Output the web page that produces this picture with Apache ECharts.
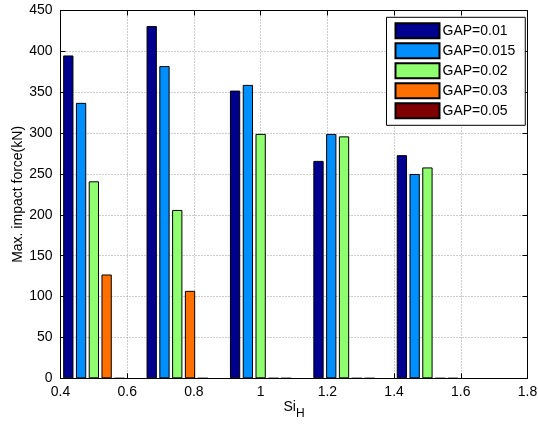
<!DOCTYPE html>
<html>
<head>
<meta charset="utf-8">
<script src="https://cdn.jsdelivr.net/npm/echarts@6/dist/echarts.min.js"></script>
<style>
  html, body { margin: 0; padding: 0; background: #fff; }
  #chart { width: 538px; height: 426px; }
</style>
</head>
<body>
<div id="chart"></div>
<script>
// Si_H positions of each bar group
const siH = [0.5, 0.75, 1.0, 1.25, 1.5];

// Maximum impact force (kN) per gap size
const gapNames = ['GAP=0.01', 'GAP=0.015', 'GAP=0.02', 'GAP=0.03', 'GAP=0.05'];
const gap001  = [395, 431, 352, 266, 273];
const gap0015 = [337, 382, 359, 299, 250];
const gap002  = [241, 206, 299, 296, 258];
const gap003  = [127, 107, 0, 0, 0];
const gap005  = [0, 0, 0, 0, 0];

const xTicks = [0.4, 0.6, 0.8, 1.0, 1.2, 1.4, 1.6, 1.8];
const yTicks = [0, 50, 100, 150, 200, 250, 300, 350, 400, 450];

const gapColors = ['#00008f', '#008fff', '#8fff70', '#ff7000', '#800000'];
const gapValues = [gap001, gap0015, gap002, gap003, gap005];

const FONT = 'Liberation Sans, Arial, sans-serif';

const chart = echarts.init(document.getElementById('chart'), null, { renderer: 'canvas' });

const series = gapNames.map((name, i) => ({
  name: name,
  type: 'bar',
  xAxisIndex: 0,
  yAxisIndex: 0,
  barWidth: 10.3,
  barGap: '24%',
  itemStyle: { color: gapColors[i], borderColor: '#000', borderWidth: 1 },
  emphasis: { disabled: true },
  data: siH.map((x, k) => [x, gapValues[i][k]])
}));

const xMin = xTicks[0], xMax = xTicks[xTicks.length - 1];
const yMin = yTicks[0], yMax = yTicks[yTicks.length - 1];

chart.setOption({
  animation: false,
  backgroundColor: '#fff',
  grid: { left: 60.5, right: 10.5, top: 10.5, bottom: 47.7, containLabel: false, outerBoundsMode: 'none' },
  legend: {
    orient: 'vertical',
    left: 386.5,
    top: 17.3,
    padding: [5, 10, 6, 8],
    itemWidth: 44,
    itemHeight: 15,
    itemGap: 3,
    backgroundColor: '#fff',
    borderColor: '#000',
    borderWidth: 1,
    borderRadius: 0,
    icon: 'rect',
    textStyle: { fontFamily: FONT, fontSize: 14, color: '#000', padding: [0, 0, 0, -2] },
    data: gapNames
  },
  xAxis: [{
    type: 'value',
    min: xMin, max: xMax, interval: 0.2,
    position: 'bottom',
    axisLine: { show: true, onZero: false, lineStyle: { color: '#000', width: 1 } },
    axisTick: { show: true, inside: true, length: 5, lineStyle: { color: '#000' } },
    axisLabel: {
      fontFamily: FONT, fontSize: 14, color: '#000', margin: 7,
      formatter: v => String(Math.round(v * 10) / 10)
    },
    splitLine: { show: true, lineStyle: { color: '#9a9a9a', type: [1, 2], width: 1 } },
    name: '{a|Si}{b|H}',
    nameLocation: 'middle',
    nameGap: 22,
    nameMoveOverlap: false,
    nameTextStyle: {
      rich: {
        a: { fontFamily: FONT, fontSize: 14, color: '#000', verticalAlign: 'top', lineHeight: 16 },
        b: { fontFamily: FONT, fontSize: 12, color: '#000', verticalAlign: 'top', lineHeight: 16, padding: [7, 0, 0, 0] }
      }
    }
  }, {
    type: 'value',
    min: xMin, max: xMax, interval: 0.2,
    position: 'top',
    axisLine: { show: true, onZero: false, lineStyle: { color: '#000', width: 1 } },
    axisTick: { show: true, inside: true, length: 5, lineStyle: { color: '#000' } },
    axisLabel: { show: false },
    splitLine: { show: false }
  }],
  yAxis: [{
    type: 'value',
    min: yMin, max: yMax, interval: 50,
    position: 'left',
    axisLine: { show: true, onZero: false, lineStyle: { color: '#000', width: 1 } },
    axisTick: { show: true, inside: true, length: 5, lineStyle: { color: '#000' } },
    axisLabel: { fontFamily: FONT, fontSize: 14, color: '#000', margin: 8 },
    splitLine: { show: true, lineStyle: { color: '#9a9a9a', type: [1, 2], width: 1 } },
    name: 'Max. impact force(kN)',
    nameLocation: 'middle',
    nameGap: 35,
    nameMoveOverlap: false,
    nameTextStyle: { fontFamily: FONT, fontSize: 14, color: '#000' }
  }, {
    type: 'value',
    min: yMin, max: yMax, interval: 50,
    position: 'right',
    axisLine: { show: true, onZero: false, lineStyle: { color: '#000', width: 1 } },
    axisTick: { show: true, inside: true, length: 5, lineStyle: { color: '#000' } },
    axisLabel: { show: false },
    splitLine: { show: false }
  }],
  series: series
});
</script>
</body>
</html>
